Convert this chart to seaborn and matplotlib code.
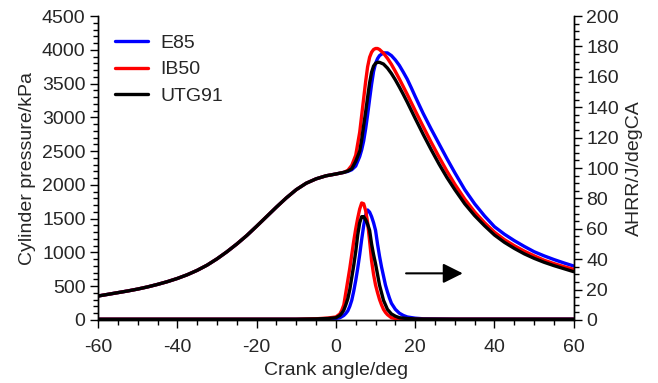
import matplotlib
matplotlib.use("Agg")
import matplotlib.pyplot as plt
import seaborn as sns
import pandas as pd
from matplotlib.ticker import MultipleLocator

sns.set_theme(style="white")
plt.rcParams['font.family'] = ['Liberation Sans', 'DejaVu Sans']
plt.rcParams['axes.unicode_minus'] = False

fuels = ["E85", "IB50", "UTG91"]
colors = {"E85": "#0000ff", "IB50": "#ff0000", "UTG91": "#000000"}

# Cylinder pressure (kPa)
p_angle = [-60, -57.5, -55, -52.5, -50, -47.5, -45, -42.5, -40, -37.5, -35, -32.5,
           -30, -27.5, -25, -22.5, -20, -17.5, -15, -12.5, -10, -7.5, -5, -2.5, 0, 1, 2,
           3, 4, 5, 6, 6.5, 7, 7.5, 8, 8.5, 9, 9.5, 10, 10.5, 11, 12, 13, 14, 15, 16, 17,
           18, 19, 20, 22, 24, 26, 28, 30, 32.5, 35, 37.5, 40, 42.5, 45, 47.5, 50, 52.5,
           55, 57.5, 60]
p_common = [355, 380, 405, 430, 458, 490, 527, 568, 615, 670, 735, 812,
            905, 1010, 1125, 1250, 1388, 1530, 1672, 1808, 1930, 2025, 2090, 2135, 2162,
            2174, 2186]
p_E85 = p_common + [2200, 2225, 2280, 2420, 2520, 2650, 2830, 3040, 3270, 3490, 3680, 3800,
                    3870, 3915, 3955, 3955, 3915, 3850, 3770, 3670, 3565, 3440, 3310, 3060,
                    2830, 2610, 2390, 2180, 1930, 1720, 1540, 1381, 1270, 1175, 1090, 1011,
                    950, 895, 845, 799]
p_IB50 = p_common + [2215, 2290, 2440, 2780, 3030, 3280, 3530, 3750, 3890, 3965, 4005, 4020,
                     4020, 4005, 3950, 3875, 3785, 3680, 3570, 3455, 3340, 3220, 3100, 2865,
                     2635, 2415, 2205, 2010, 1790, 1600, 1440, 1300, 1190, 1100, 1020, 950,
                     885, 835, 790, 750]
p_UTG91 = p_common + [2205, 2240, 2350, 2500, 2670, 2880, 3080, 3300, 3510, 3670, 3760, 3800,
                      3815, 3815, 3790, 3730, 3650, 3555, 3450, 3340, 3225, 3105, 2985, 2750,
                      2525, 2310, 2110, 1930, 1720, 1545, 1395, 1258, 1150, 1060, 980, 913,
                      855, 805, 760, 715]

# Apparent heat release rate (J/degCA)
h_angle = [-60, -10, -5, -2, 0, 1, 1.5, 2, 2.5, 3, 3.5, 4, 4.5, 5, 5.5, 6, 6.5, 7, 7.5, 8,
           8.5, 9, 9.5, 10, 10.5, 11, 11.5, 12, 12.5, 13, 13.5, 14, 15, 16, 17, 18, 20, 22,
           30, 60]
h_E85 = [0.5, 0.5, 0.6, 0.8, 1.0, 1.5, 2.2, 3, 4.3, 6, 9, 13, 19, 26, 34, 43, 53, 62, 69,
         72.4, 71, 68, 64, 59, 50, 42, 35, 29, 23, 18.5, 14.5, 11, 7, 4.5, 3, 2, 1.2, 0.8,
         0.6, 0.6]
h_IB50 = [0.5, 0.5, 0.8, 1.3, 2, 4, 6.5, 10, 18, 26, 34, 43, 52, 60, 67, 73, 77, 76.5, 72,
          64, 52, 39, 30, 23, 18, 13.5, 10, 7, 5, 3.5, 2.5, 1.5, 1.0, 0.8, 0.7, 0.6, 0.5,
          0.5, 0.5, 0.5]
h_UTG91 = [0.5, 0.5, 0.7, 1.0, 1.5, 3, 4.5, 6.5, 10, 14, 20, 28, 36, 45, 56, 64, 68, 68,
           66, 63, 59, 50, 43, 37, 30, 23, 18, 13, 10, 7, 5.5, 4, 2.5, 1.5, 1.2, 1.0, 0.7,
           0.6, 0.5, 0.5]

p_df = pd.concat([pd.DataFrame({"angle": p_angle, "val": v, "fuel": f})
                  for f, v in zip(fuels, [p_E85, p_IB50, p_UTG91])])
h_df = pd.concat([pd.DataFrame({"angle": h_angle, "val": v, "fuel": f})
                  for f, v in zip(fuels, [h_E85, h_IB50, h_UTG91])])

fig = plt.figure(figsize=(6.58, 3.83), dpi=100)
ax = fig.add_axes([0.149, 0.1645, 0.723, 0.7935])
ax2 = ax.twinx()

lw = 2.4
sns.lineplot(data=p_df, x="angle", y="val", hue="fuel", hue_order=fuels,
             palette=colors, linewidth=lw, ax=ax, legend=True)
sns.lineplot(data=h_df, x="angle", y="val", hue="fuel", hue_order=fuels,
             palette=colors, linewidth=lw, ax=ax2, legend=False)

fs = 14
ax.set_xlim(-60, 60)
ax.set_ylim(0, 4500)
ax2.set_ylim(0, 200)
ax.set_xlabel("Crank angle/deg", fontsize=fs, labelpad=4)
ax.set_ylabel("Cylinder pressure/kPa", fontsize=fs, labelpad=4)
ax2.set_ylabel("AHRR/J/degCA", fontsize=fs, labelpad=5)

ax.xaxis.set_major_locator(MultipleLocator(20))
ax.xaxis.set_minor_locator(MultipleLocator(5))
ax.yaxis.set_major_locator(MultipleLocator(500))
ax.yaxis.set_minor_locator(MultipleLocator(100))
ax2.yaxis.set_major_locator(MultipleLocator(20))
ax2.yaxis.set_minor_locator(MultipleLocator(5))

for a in (ax, ax2):
    a.tick_params(which="major", direction="out", length=6, width=1.0, labelsize=fs,
                  color="black", pad=3)
    a.tick_params(which="minor", direction="out", length=3.5, width=1.0, color="black")
    for s in a.spines.values():
        s.set_color("black")
        s.set_linewidth(1.0)
    a.spines["top"].set_visible(False)
ax.tick_params(axis="x", which="major", pad=8)
ax.tick_params(axis="x", which="both", bottom=True)
ax.tick_params(axis="y", which="both", left=True)
ax2.tick_params(axis="y", which="both", right=True)
ax2.grid(False)
ax.grid(False)

ax2.annotate("", xy=(32, 30.7), xytext=(17.7, 30.7),
             arrowprops=dict(arrowstyle="-|>,head_length=1.0,head_width=0.5",
                             color="black", lw=1.5, shrinkA=0, shrinkB=0))

leg = ax.legend(loc="upper left", bbox_to_anchor=(0.02, 0.965), frameon=False,
                fontsize=fs, handlelength=1.7, handletextpad=0.6, labelspacing=0.45,
                borderaxespad=0.0)
leg.set_title(None)
for line in leg.get_lines():
    line.set_linewidth(lw)

fig.savefig("out.png", dpi=100)
